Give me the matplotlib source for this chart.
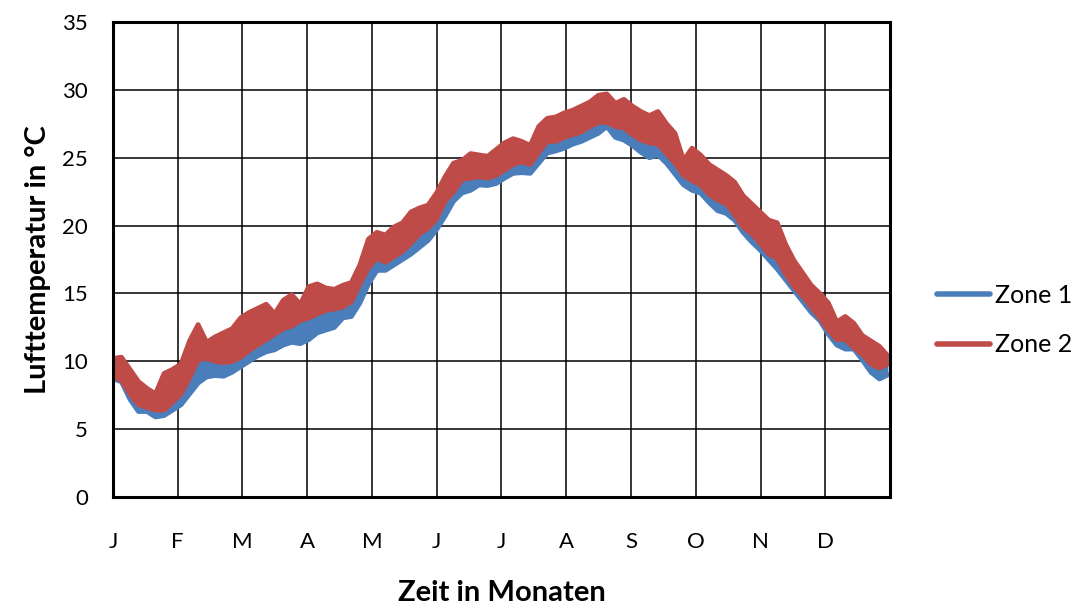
import numpy as np
import matplotlib
matplotlib.use("Agg")
import matplotlib.pyplot as plt
from matplotlib.lines import Line2D

plt.rcParams['font.family'] = ['Lato', 'DejaVu Sans']

# day of year, sampled every 4 days
days = np.arange(0, 365, 4)

# Zone 1 band (lower / upper edge), degC
zone1_lo = [8.7, 8.5, 7.2, 6.3, 6.3, 5.9, 6.0, 6.4, 6.8, 7.6,
            8.4, 8.85, 8.95, 8.9, 9.2, 9.6, 10.0, 10.4, 10.7, 10.85,
            11.2, 11.4, 11.3, 11.6, 12.1, 12.3, 12.5, 13.2, 13.3, 14.3,
            15.7, 16.7, 16.7, 17.1, 17.5, 17.9, 18.4, 18.9, 19.7, 20.7,
            21.8, 22.4, 22.6, 23.0, 22.95, 23.1, 23.5, 23.85, 23.9, 23.85,
            24.6, 25.35, 25.5, 25.7, 26.0, 26.2, 26.5, 26.8, 27.3, 26.5,
            26.3, 25.9, 25.4, 25.0, 25.2, 24.6, 23.8, 23.0, 22.6, 22.4,
            21.7, 21.1, 20.9, 20.4, 19.5, 18.8, 18.2, 17.5, 16.8, 16.0,
            15.2, 14.4, 13.6, 13.0, 12.0, 11.2, 10.9, 10.9, 10.1, 9.2,
            8.7, 9.0]
zone1_hi = [9.2, 8.9, 7.9, 7.1, 6.9, 6.7, 6.7, 7.3, 7.9, 9.1,
            10.4, 10.5, 10.3, 10.2, 10.3, 10.6, 11.1, 11.5, 11.9, 12.3,
            12.7, 12.9, 13.3, 13.5, 13.8, 14.0, 14.1, 14.3, 14.7, 16.0,
            17.2, 17.9, 17.6, 18.0, 18.4, 19.0, 19.7, 20.1, 20.8, 22.1,
            22.8, 23.7, 23.8, 23.9, 23.8, 24.0, 24.4, 24.8, 25.0, 24.8,
            25.7, 26.5, 26.5, 26.8, 27.0, 27.2, 27.6, 27.9, 27.9, 27.6,
            27.5, 27.0, 26.6, 26.4, 26.3, 25.6, 24.9, 24.0, 23.6, 23.3,
            22.6, 22.2, 21.9, 21.1, 20.2, 19.7, 19.0, 18.2, 17.9, 16.7,
            15.8, 15.1, 14.3, 13.5, 12.6, 11.9, 11.9, 11.3, 10.8, 10.1,
            9.8, 10.1]

# Zone 2 band
zone2_lo = [8.9, 8.6, 7.6, 6.8, 6.6, 6.4, 6.4, 7.0, 7.6, 8.8,
            10.1, 10.2, 10.0, 9.9, 10.0, 10.3, 10.8, 11.2, 11.6, 12.0,
            12.4, 12.6, 13.0, 13.2, 13.5, 13.75, 13.85, 14.0, 14.4, 15.7,
            16.9, 17.6, 17.3, 17.7, 18.1, 18.7, 19.4, 19.8, 20.5, 21.8,
            22.5, 23.4, 23.5, 23.6, 23.5, 23.7, 24.1, 24.5, 24.7, 24.5,
            25.4, 26.2, 26.2, 26.5, 26.7, 26.9, 27.3, 27.6, 27.6, 27.3,
            27.2, 26.7, 26.3, 26.1, 26.0, 25.3, 24.6, 23.7, 23.3, 23.0,
            22.3, 21.9, 21.6, 20.8, 19.9, 19.4, 18.7, 17.9, 17.6, 16.4,
            15.5, 14.8, 14.0, 13.2, 12.3, 11.6, 11.6, 11.0, 10.5, 9.8,
            9.5, 9.8]
zone2_hi = [10.2, 10.3, 9.4, 8.5, 8.0, 7.6, 9.1, 9.4, 9.8, 11.5,
            12.7, 11.4, 11.8, 12.1, 12.4, 13.2, 13.6, 13.9, 14.2, 13.5,
            14.5, 14.9, 14.2, 15.5, 15.7, 15.4, 15.3, 15.6, 15.8, 17.1,
            19.0, 19.5, 19.3, 19.9, 20.2, 21.0, 21.3, 21.5, 22.4, 23.6,
            24.6, 24.8, 25.3, 25.2, 25.1, 25.6, 26.1, 26.4, 26.2, 25.9,
            27.3, 27.9, 28.0, 28.3, 28.5, 28.8, 29.1, 29.6, 29.7, 29.0,
            29.3, 28.8, 28.4, 28.1, 28.4, 27.5, 26.8, 24.8, 25.7, 25.2,
            24.5, 24.1, 23.7, 23.2, 22.2, 21.6, 21.0, 20.4, 20.2, 18.6,
            17.4, 16.5, 15.6, 15.0, 14.3, 12.9, 13.3, 12.8, 11.9, 11.5,
            11.1, 10.4]

month_labels = ['J', 'F', 'M', 'A', 'M', 'J', 'J', 'A', 'S', 'O', 'N', 'D', '']

blue = '#4A7EBB'
red = '#BE4B48'

fig = plt.figure(figsize=(10.85, 6.09), dpi=100)
ax = fig.add_axes([0.1041, 0.1839, 0.7162, 0.78])

for lo, hi, c in [(zone1_lo, zone1_hi, blue), (zone2_lo, zone2_hi, red)]:
    ax.fill_between(days, lo, hi, color=c, lw=0, zorder=3)
    ax.plot(days, lo, color=c, lw=3.5, solid_capstyle='round', solid_joinstyle='round', zorder=3)
    ax.plot(days, hi, color=c, lw=3.5, solid_capstyle='round', solid_joinstyle='round', zorder=3)

ax.set_xlim(0, 365)
ax.set_ylim(0, 35)
ax.set_xticks(np.arange(13) * 365 / 12)
ax.set_xticklabels(month_labels)
ax.set_yticks(np.arange(0, 36, 5))
ax.grid(True, color='black', lw=1.1, zorder=1)
ax.set_axisbelow(True)
ax.tick_params(axis='x', length=0, pad=25, labelsize=16)
ax.tick_params(axis='y', length=0, pad=18, labelsize=16)
for s in ax.spines.values():
    s.set_linewidth(2.2)
    s.set_zorder(4)

ax.set_ylabel('Lufttemperatur in °C', fontsize=21, fontweight='bold', labelpad=8)
ax.set_xlabel('Zeit in Monaten', fontsize=21, fontweight='bold', labelpad=20)

handles = [Line2D([], [], color=blue, lw=4, solid_capstyle='round'),
           Line2D([], [], color=red, lw=4, solid_capstyle='round')]
fig.legend(handles, ['Zone 1', 'Zone 2'], loc='center left',
           bbox_to_anchor=(0.864, 0.474), frameon=False, fontsize=18,
           handlelength=2.1, handletextpad=0.2, labelspacing=1.05,
           borderpad=0, borderaxespad=0)

fig.savefig('out.png', dpi=100)
